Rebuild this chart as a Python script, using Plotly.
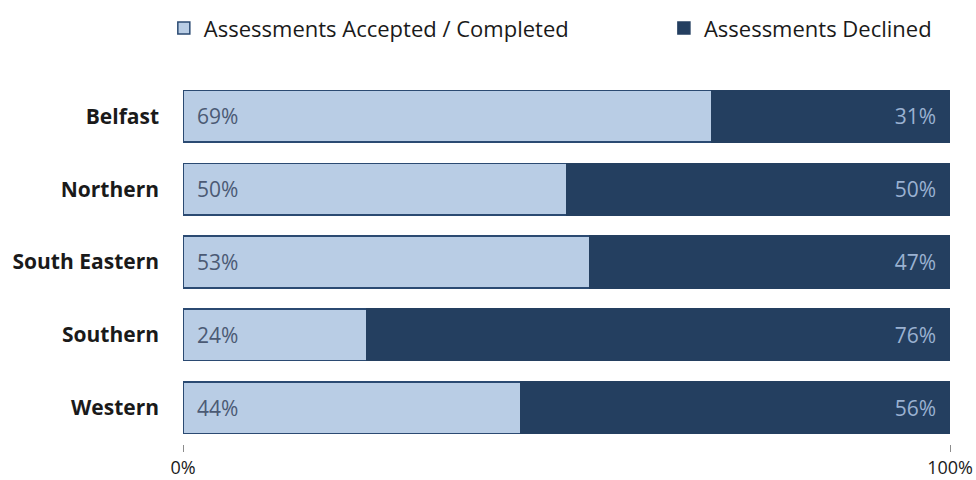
# imports
import plotly.graph_objects as go

# data
regions = ["Belfast", "Northern", "South Eastern", "Southern", "Western"]
accepted = [69, 50, 53, 24, 44]
declined = [31, 50, 47, 76, 56]
series_names = ["Assessments Accepted / Completed", "Assessments Declined"]
tick_vals = [0, 100]
tick_text = ["0%", "100%"]

FONT = "Open Sans"
PAD = "\u00a0\u00a0"

fig = go.Figure()

# lichte balk links, donkere rechts
fig.add_trace(go.Bar(
    y=regions, x=accepted, orientation="h", name=series_names[0],
    marker=dict(color="#B9CDE5", line=dict(color="#2B4A72", width=1.5)),
    text=[f"{PAD}{v}%" for v in accepted], textposition="inside",
    insidetextanchor="start", textangle=0,
    textfont=dict(family=FONT, size=21, color="#4B5A74"),
    hoverinfo="skip", legend="legend",
))
fig.add_trace(go.Bar(
    y=regions, x=declined, orientation="h", name=series_names[1],
    marker=dict(color="#243F60", line=dict(color="#243F60", width=1.5)),
    text=[f"{v}%{PAD}" for v in declined], textposition="inside",
    insidetextanchor="end", textangle=0,
    textfont=dict(family=FONT, size=21, color="#9AB1D1"),
    hoverinfo="skip", legend="legend2",
))

legend_common = dict(
    orientation="h", yanchor="top", yref="container", y=0.985,
    font=dict(family=FONT, size=22, color="#1A1A1A"),
    itemclick=False, bgcolor="rgba(0,0,0,0)",
)

fig.update_layout(
    barmode="stack",
    bargap=0.29,
    width=976, height=480,
    margin=dict(l=183, r=26, t=80, b=36, autoexpand=False),
    paper_bgcolor="white", plot_bgcolor="white",
    font=dict(family=FONT, size=18, color="#1A1A1A"),
    showlegend=True,
    legend=dict(x=-0.025, xanchor="left", **legend_common),
    legend2=dict(x=0.627, xanchor="left", **legend_common),
    uniformtext=dict(minsize=10, mode="show"),
)

fig.update_xaxes(
    range=[0, 100], tickvals=tick_vals, ticktext=tick_text,
    showgrid=True, gridcolor="#8C8C8C", gridwidth=1,
    ticks="outside", ticklen=7, tickcolor="#8C8C8C",
    zeroline=False, showline=False, automargin=False,
    ticklabeloverflow="allow",
    tickfont=dict(family=FONT, size=18, color="#1A1A1A"),
    fixedrange=True,
)
fig.update_yaxes(
    autorange="reversed", showgrid=False, zeroline=False,
    showline=False, ticks="", ticklabelstandoff=23, automargin=False,
    tickfont=dict(family=FONT, size=21, color="#1A1A1A", weight="bold"),
    fixedrange=True,
)

# body-marge weg zodat de figuur precies in het venster past
fig.write_html(
    "out.html",
    config={"displayModeBar": False},
    post_script="document.body.style.margin='0';document.body.style.overflow='hidden';",
)
